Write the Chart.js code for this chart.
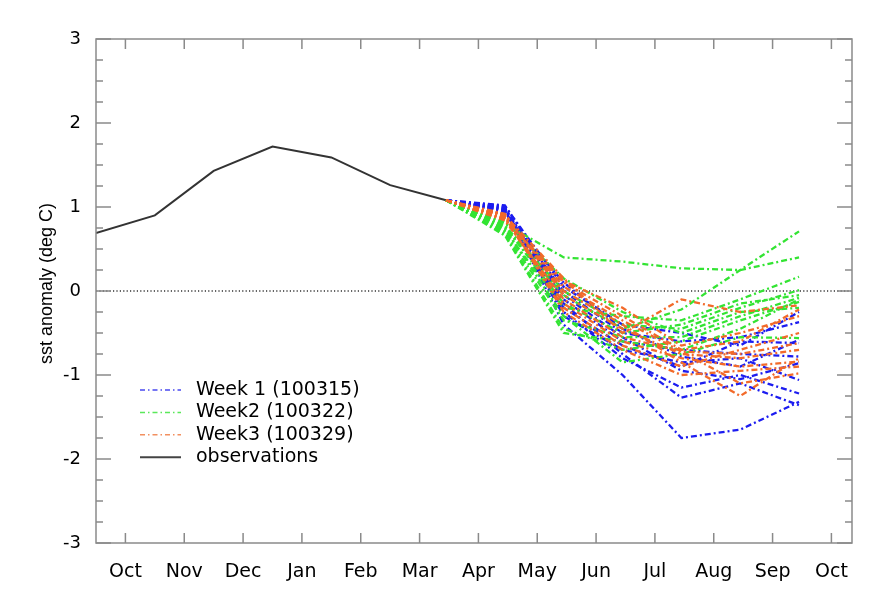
<!DOCTYPE html>
<html><head><meta charset="utf-8">
<script src="https://cdn.jsdelivr.net/npm/chart.js@4/dist/chart.umd.min.js"></script>
<style>html,body{margin:0;padding:0;background:#fff}#wrap{width:890px;height:595px;position:relative}</style>
</head><body><div id="wrap"><canvas id="c" width="890" height="595"></canvas></div>
<script>
// ---- data ----
const monthLabels = ['Oct','Nov','Dec','Jan','Feb','Mar','Apr','May','Jun','Jul','Aug','Sep','Oct'];
const yTickValues = [-3,-2,-1,0,1,2,3];
const obsMonths = [-0.5,0.5,1.5,2.5,3.5,4.5,5.45];
const obsValues = [0.69,0.90,1.43,1.72,1.59,1.26,1.08];
const fcstMonths = [5.45,6.45,7.45,8.45,9.45,10.45,11.45];
const week1 = [
  [1.08,1.00,-0.40,-1.00,-1.75,-1.65,-1.32],
  [1.08,0.98,-0.15,-0.75,-1.27,-1.10,-1.36],
  [1.08,0.95,-0.25,-0.80,-1.15,-1.00,-1.22],
  [1.08,1.02,-0.05,-0.55,-0.95,-1.05,-0.86],
  [1.08,0.96,-0.30,-0.70,-0.85,-0.80,-1.06],
  [1.08,0.92,0.10,-0.45,-0.78,-0.90,-0.58],
  [1.08,0.99,-0.10,-0.60,-0.70,-0.75,-0.78],
  [1.08,0.94,0.00,-0.50,-0.60,-0.55,-0.37],
  [1.08,1.01,0.05,-0.40,-0.50,-0.65,-0.25],
  [1.08,0.97,-0.20,-0.65,-0.90,-0.60,-0.62]
];
const week2 = [
  [1.08,0.80,0.40,0.35,0.27,0.25,0.40],
  [1.08,0.75,-0.05,-0.45,-0.22,0.25,0.71],
  [1.08,0.72,-0.20,-0.30,-0.35,-0.10,0.17],
  [1.08,0.78,0.00,-0.40,-0.45,-0.20,0.01],
  [1.08,0.70,-0.35,-0.55,-0.55,-0.30,-0.08],
  [1.08,0.68,-0.45,-0.70,-0.60,-0.35,-0.13],
  [1.08,0.82,0.15,-0.25,-0.50,-0.25,-0.20],
  [1.08,0.74,-0.30,-0.85,-0.75,-0.55,-0.56],
  [1.08,0.66,-0.50,-0.60,-0.70,-0.45,-0.10],
  [1.08,0.77,-0.15,-0.50,-0.40,-0.15,-0.05]
];
const week3 = [
  [1.08,0.90,0.15,-0.50,-0.10,-0.25,-0.17],
  [1.08,0.88,0.05,-0.35,-0.72,-0.75,-0.62],
  [1.08,0.92,-0.05,-0.45,-0.75,-0.80,-0.70],
  [1.08,0.86,0.10,-0.30,-0.70,-0.60,-0.22],
  [1.08,0.89,-0.15,-0.60,-0.80,-0.90,-0.84],
  [1.08,0.84,-0.10,-0.55,-0.72,-1.10,-0.98],
  [1.08,0.91,0.00,-0.40,-0.85,-1.25,-0.80],
  [1.08,0.87,-0.20,-0.65,-0.90,-0.70,-0.50],
  [1.08,0.85,0.12,-0.20,-0.65,-0.50,-0.30],
  [1.08,0.90,-0.25,-0.70,-1.00,-0.95,-0.90]
];
const seriesNames = ['Week 1 (100315)','Week2 (100322)','Week3 (100329)','observations'];

// ---- styles ----
const COLORS = ['#1c1cf0','#33e433','#f26a2a'];
const LEGEND_COLORS = ['#4a4af0','#5ae85a','#f29060'];
const DASH = [6,3,2,3];
const AXIS = '#8a8a8a';

const toPts = (xs, ys) => xs.map((x,i)=>({x:x, y:ys[i]}));
const datasets = [];
[week3, week2, week1].forEach((wk, k) => {
  const ci = 2 - k;
  wk.forEach(v => datasets.push({
    data: toPts(fcstMonths, v), borderColor: COLORS[ci], borderWidth: 2.3,
    borderDash: DASH, pointRadius: 0, tension: 0, fill: false
  }));
});
datasets.push({data: toPts(obsMonths, obsValues), borderColor:'#333333', borderWidth:2, pointRadius:0, tension:0, fill:false});

const framePlugin = {
  id:'frame',
  beforeDatasetsDraw(chart){
    const {ctx, chartArea:a, scales:{y}} = chart;
    const y0 = y.getPixelForValue(0);
    ctx.save();
    ctx.strokeStyle='#333'; ctx.lineWidth=1.5; ctx.setLineDash([1.2,2.2]);
    ctx.beginPath(); ctx.moveTo(a.left,y0); ctx.lineTo(a.right,y0); ctx.stroke();
    ctx.restore();
  },
  afterDatasetsDraw(chart){
    const {ctx, chartArea:a, scales:{x,y}} = chart;
    ctx.save();
    ctx.strokeStyle=AXIS; ctx.lineWidth=1.5; ctx.setLineDash([]);
    ctx.strokeRect(a.left,a.top,a.right-a.left,a.bottom-a.top);
    ctx.beginPath();
    monthLabels.forEach((_,i)=>{
      const px = x.getPixelForValue(i);
      ctx.moveTo(px,a.bottom); ctx.lineTo(px,a.bottom-10);
      ctx.moveTo(px,a.top); ctx.lineTo(px,a.top+10);
    });
    for (let v=-3; v<=3.0001; v+=0.25){
      const py = y.getPixelForValue(v);
      const len = Math.abs(v-Math.round(v))<1e-6 ? 15 : 7;
      ctx.moveTo(a.left,py); ctx.lineTo(a.left+len,py);
      ctx.moveTo(a.right,py); ctx.lineTo(a.right-len,py);
    }
    ctx.stroke();
    // legend
    const lx = a.left + 44, ly = a.top + 351, step = 22.4;
    ctx.font = '19px "DejaVu Sans"'; ctx.textBaseline='middle'; ctx.textAlign='left';
    seriesNames.forEach((name,i)=>{
      const ry = ly + i*step;
      ctx.beginPath();
      if (i<3){ ctx.strokeStyle=LEGEND_COLORS[i]; ctx.lineWidth=1.5; ctx.setLineDash([5,3,1.5,3]); }
      else { ctx.strokeStyle='#444'; ctx.lineWidth=2; ctx.setLineDash([]); }
      ctx.moveTo(lx,ry); ctx.lineTo(lx+41,ry); ctx.stroke();
      ctx.fillStyle='#000';
      ctx.fillText(name, lx+56, ry);
    });
    ctx.restore();
  }
};

new Chart(document.getElementById('c'), {
  type:'line',
  data:{datasets},
  options:{
    responsive:false, animation:false, events:[],
    layout:{padding:{left:0,top:39,right:38,bottom:0}},
    plugins:{legend:{display:false}, tooltip:{enabled:false}},
    scales:{
      x:{type:'linear', min:-0.5, max:12.35,
        grid:{display:false}, border:{display:false},
        afterBuildTicks: s => { s.ticks = monthLabels.map((_,i)=>({value:i})); },
        afterFit: s => { s.height = 52; },
        ticks:{autoSkip:false, maxRotation:0, padding:10, color:'#000',
          font:{family:'"DejaVu Sans"', size:19},
          callback:(v,i)=>monthLabels[i]}
      },
      y:{type:'linear', min:-3, max:3,
        grid:{display:false}, border:{display:false},
        afterBuildTicks: s => { s.ticks = yTickValues.map(v=>({value:v})); },
        afterFit: s => { s.width = 96; },
        ticks:{padding:7, color:'#000', font:{family:'"DejaVu Sans"', size:18},
          callback:v=>String(v)},
        title:{display:true, text:'   sst anomaly (deg C)', color:'#000',
          font:{family:'"Liberation Sans"', size:18}, padding:{top:36,bottom:0}}
      }
    }
  },
  plugins:[framePlugin]
});
</script></body></html>
